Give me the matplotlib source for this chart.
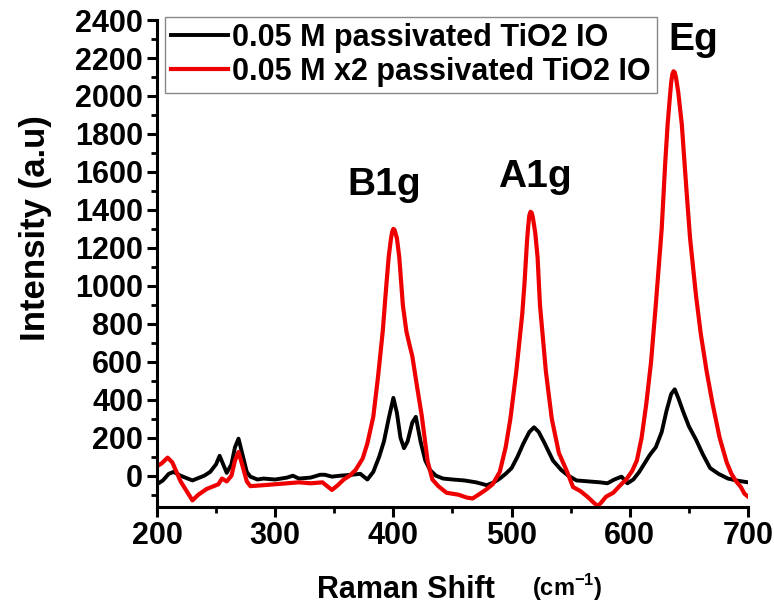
import matplotlib
matplotlib.use('Agg')
import matplotlib.pyplot as plt
from matplotlib.ticker import MultipleLocator

plt.rcParams['font.family'] = ['Liberation Sans', 'DejaVu Sans']
plt.rcParams['font.weight'] = 'bold'
plt.rcParams['mathtext.fontset'] = 'custom'
plt.rcParams['mathtext.rm'] = 'Liberation Sans:bold'
plt.rcParams['mathtext.bf'] = 'Liberation Sans:bold'

# Raman spectra (shift in cm-1, intensity in a.u.)
black_x = [200, 205, 210, 214, 220, 230, 240, 245, 250, 253, 256, 259, 263, 266, 269,
           272, 276, 279, 285, 290, 300, 310, 315, 320, 330, 338, 342, 348, 355, 365,
           372, 378, 383, 388, 392, 396, 400, 403, 406, 409, 412, 416, 419, 423, 427,
           431, 436, 442, 450, 460, 470, 479, 485, 490, 495, 500, 505, 510, 515, 519,
           523, 528, 535, 542, 548, 555, 565, 575, 581, 587, 593, 598, 603, 608, 613,
           617, 622, 627, 631, 635, 638, 641, 645, 650, 656, 662, 668, 675, 683, 690,
           695, 700]
black_y = [-45, -25, 10, 20, 0, -25, 0, 20, 60, 105, 60, 15, 60, 150, 195,
           120, 20, -5, -20, -15, -20, -10, 0, -15, -10, 5, 5, -5, 0, 5,
           10, -20, 20, 100, 180, 300, 410, 330, 200, 145, 180, 280, 310, 180, 80,
           30, 0, -15, -20, -25, -35, -50, -35, -15, 10, 40, 100, 170, 230, 255,
           230, 170, 80, 30, 0, -25, -30, -35, -40, -20, -5, -40, -20, 20, 70,
           110, 150, 230, 340, 430, 455, 410, 340, 260, 190, 110, 40, 10, -15, -25,
           -30, -35]

red_x = [200, 204, 209, 213, 220, 226, 230, 235, 242, 248, 252, 255, 259, 263, 266,
         269, 272, 276, 279, 290, 300, 310, 320, 330, 340, 345, 348, 353, 358, 363,
         368, 374, 378, 383, 387, 391, 394, 396, 398, 399, 400, 401, 403, 405, 408,
         411, 414, 416, 420, 424, 429, 433, 438, 445, 455, 462, 467, 472, 478, 484,
         490, 495, 499, 504, 509, 511, 513, 514, 515, 516, 517, 518, 520, 522, 524,
         529, 534, 540, 547, 552, 558, 564, 570, 573, 576, 580, 586, 592, 597, 602,
         606, 610, 614, 618, 622, 627, 630, 632, 634, 635, 636, 637, 638, 639, 641,
         644, 648, 651, 656, 660, 665, 670, 676, 682, 686, 690, 694, 697, 700]
red_y = [50, 65, 95, 70, -30, -90, -130, -100, -70, -55, -45, -15, -30, 0, 80,
         125, 60, -30, -55, -50, -45, -40, -35, -40, -35, -60, -75, -50, -20, 0,
         30, 90, 170, 310, 520, 760, 1000, 1150, 1250, 1285, 1300, 1295, 1250, 1150, 900,
         760, 680, 630, 470, 316, 75, -20, -55, -90, -100, -115, -120, -100, -75, -45,
         20, 150, 300, 550, 850, 1020, 1230, 1310, 1370, 1390, 1385, 1360, 1280, 1150, 900,
         550, 300, 120, 20, -60, -80, -110, -145, -160, -140, -110, -90, -50, -20, 25,
         80, 200, 380, 600, 900, 1300, 1650, 1850, 2000, 2070, 2115, 2130, 2125, 2100, 2020,
         1850, 1500, 1250, 950, 750, 550, 380, 200, 70, 10, -30, -60, -95, -110]

labels = ['0.05 M passivated TiO2 IO', '0.05 M x2 passivated TiO2 IO']
peak_names = ['B1g', 'A1g', 'Eg']
peak_pos = [(392, 1480), (520, 1520), (654, 2240)]

fig = plt.figure(figsize=(7.74, 6.07), dpi=100)
ax = fig.add_axes([0.2028, 0.1647, 0.7636, 0.8023])

ax.plot(black_x, black_y, color='black', lw=2.8, label=labels[0])
ax.plot(red_x, red_y, color='#ee0000', lw=3.0, label=labels[1])

ax.set_xlim(200, 700)
ax.set_ylim(-165, 2400)
ax.xaxis.set_major_locator(MultipleLocator(100))
ax.xaxis.set_minor_locator(MultipleLocator(50))
ax.yaxis.set_major_locator(MultipleLocator(200))
ax.yaxis.set_minor_locator(MultipleLocator(100))

for side in ['top', 'right']:
    ax.spines[side].set_visible(False)
for side in ['left', 'bottom']:
    ax.spines[side].set_linewidth(2.2)

ax.tick_params(which='major', direction='out', length=7, width=2.2, labelsize=22, pad=3)
ax.tick_params(which='minor', direction='out', length=4, width=2.0)
for lab in ax.get_xticklabels() + ax.get_yticklabels():
    lab.set_fontweight('bold')

for name, (px, py) in zip(peak_names, peak_pos):
    ax.text(px, py, name, fontsize=28, fontweight='bold', ha='center', va='baseline')

fig.text(36 / 774, 1 - 228 / 607, 'Intensity (a.u)', rotation=90, fontsize=25,
         fontweight='bold', ha='center', va='center')
fig.text(406 / 774, 1 - 605 / 607, 'Raman Shift', fontsize=22, fontweight='bold',
         ha='center', va='bottom')
fig.text(532 / 774, 1 - 603 / 607, r'(cm$^{-1}$)', fontsize=17, fontweight='bold',
         ha='left', va='bottom')

leg = ax.legend(loc='upper left', bbox_to_anchor=(165 / 774, 1 - 17 / 607),
                bbox_transform=fig.transFigure, borderaxespad=0, fontsize=22,
                handlelength=1.85, handletextpad=0.15, borderpad=0.2, labelspacing=0.12,
                fancybox=False, framealpha=1, edgecolor='#888888')
leg.get_frame().set_linewidth(1.0)
for t in leg.get_texts():
    t.set_fontweight('bold')

fig.savefig('out.png', dpi=100)
